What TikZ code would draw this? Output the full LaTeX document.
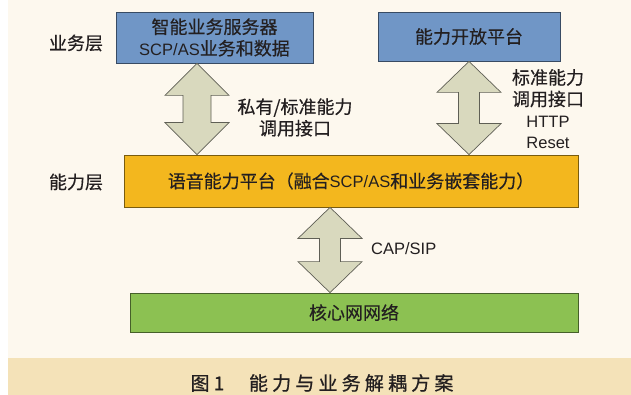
\documentclass[tikz,border=0pt]{standalone}
\usepackage{fontspec}
\setmainfont{Noto Sans CJK SC}[FakeBold=0.4]
\newfontfamily\capfont{Noto Sans CJK SC}[FakeBold=0.8]
\newfontfamily\latfont{Liberation Sans}
\usetikzlibrary{calc}
\definecolor{cream}{HTML}{FDF8EE}
\definecolor{band}{HTML}{F4E2B8}
\definecolor{boxblue}{HTML}{7096C6}
\definecolor{boxorange}{HTML}{F3B71E}
\definecolor{boxgreen}{HTML}{8CC152}
\definecolor{arrowfill}{HTML}{D9D9BE}
\definecolor{arrowline}{HTML}{5F5F55}
\definecolor{ink}{HTML}{231F20}
\newcommand\lt[1]{{\latfont\fontsize{16.5}{21.5}\selectfont #1}}
\newcommand\myDArrow[5]{\draw[darrow] (#1) -- ($(#1)+(#3,#5)$) -- ($(#1)+(#4,#5)$) -- ($(#2)+(#4,-#5)$) -- ($(#2)+(#3,-#5)$) -- (#2) -- ($(#2)+(-#3,-#5)$) -- ($(#2)+(-#4,-#5)$) -- ($(#1)+(-#4,#5)$) -- ($(#1)+(-#3,#5)$) -- cycle;}
\begin{document}
\begin{tikzpicture}[x=1pt,y=-1pt,
  every node/.style={text=ink, inner sep=0pt},
  cn/.style={font=\fontsize{18}{21.5}\selectfont, align=center},
  boxnode/.style={draw, line width=0.8pt, cn},
  darrow/.style={fill=arrowfill, draw=arrowline, line width=0.7pt, line join=miter}]
\fill[white] (0,0) rectangle (631,395);
\useasboundingbox (0,0) rectangle (631,395);
\fill[cream] (8,0) rectangle (631,358);
\fill[band] (8,358) rectangle (631,395);

\node[boxnode, fill=boxblue, draw=boxblue!50!black, minimum width=197pt, minimum height=51pt] (svr) at (214.5,37.5) {智能业务服务器\\\lt{SCP/AS}业务和数据};
\node[boxnode, fill=boxblue, draw=boxblue!50!black, minimum width=182pt, minimum height=49pt] (open) at (469,36.5) {能力开放平台};
\node[boxnode, fill=boxorange, draw=boxorange!50!black, minimum width=454pt, minimum height=52pt] (plat) at (351,181) {语音能力平台（融合\lt{SCP/AS}和业务嵌套能力）};
\node[boxnode, fill=boxgreen, draw=boxgreen!50!black, minimum width=448pt, minimum height=39pt] (core) at (354,312.5) {核心网网络};

\node[cn] (lyr1) at (76,43) {业务层};
\node[cn] (lyr2) at (76,182) {能力层};

\coordinate (a1) at (197,0);
\coordinate (a2) at (469,0);
\coordinate (a3) at (330,0);
\coordinate (t1) at (svr.south -| a1);
\coordinate (b1) at (plat.north -| a1);
\coordinate (t2) at (open.south -| a2);
\coordinate (b2) at (plat.north -| a2);
\coordinate (t3) at (plat.south -| a3);
\coordinate (b3) at (core.north -| a3);
\myDArrow{t1}{b1}{32}{14}{32}
\myDArrow{t2}{b2}{32}{10.5}{31}
\myDArrow{t3}{b3}{32}{10.5}{31}

\node[cn] (l1) at (295,117.5) {私有/标准能力\\调用接口};
\node[cn] (l2) at (548,109) {标准能力\\调用接口\\\lt{HTTP}\\\lt{Reset}};
\node[cn, anchor=west] (l3) at (371,249) {\lt{CAP/SIP}};

\node[font=\capfont\fontsize{19}{22}\selectfont\addfontfeature{LetterSpace=22}] (cap) at (322,383) {图1\hspace{1.3em}能力与业务解耦方案};
\end{tikzpicture}
\end{document}
